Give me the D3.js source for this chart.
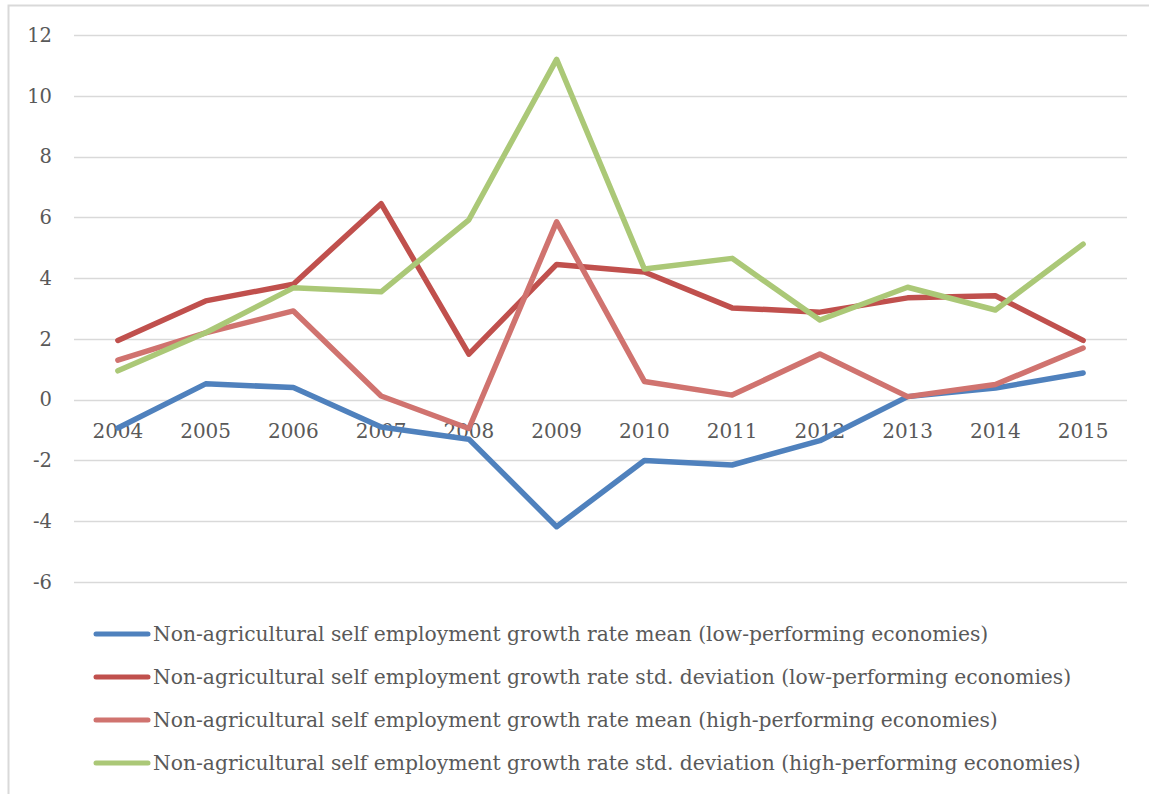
<!DOCTYPE html>
<html>
<head>
<meta charset="utf-8">
<script src="https://cdn.jsdelivr.net/npm/d3@7"></script>
<style>
  body { margin: 0; background: #fff; }
  text { font-family: "DejaVu Serif", "Liberation Serif", serif; fill: #595959; }
</style>
</head>
<body>
<div id="container"></div>
<script>
// chart data
let years = ["2004", "2005", "2006", "2007", "2008", "2009", "2010", "2011", "2012", "2013", "2014", "2015"];
let meanLow = [-0.93, 0.52, 0.4, -0.9, -1.3, -4.18, -2.0, -2.15, -1.35, 0.1, 0.38, 0.88];
let stdLow = [1.95, 3.25, 3.8, 6.45, 1.5, 4.45, 4.2, 3.02, 2.88, 3.35, 3.42, 1.95];
let meanHigh = [1.3, 2.2, 2.92, 0.12, -0.95, 5.85, 0.6, 0.15, 1.5, 0.1, 0.5, 1.7];
let stdHigh = [0.95, 2.2, 3.68, 3.55, 5.92, 11.2, 4.3, 4.65, 2.62, 3.7, 2.95, 5.12];
let yTicks = [-6, -4, -2, 0, 2, 4, 6, 8, 10, 12];
let seriesNames = [
  "Non-agricultural self employment growth rate mean (low-performing economies)",
  "Non-agricultural self employment growth rate std. deviation (low-performing economies)",
  "Non-agricultural self employment growth rate mean (high-performing economies)",
  "Non-agricultural self employment growth rate std. deviation (high-performing economies)"
];
let colors = ["#4f81bd", "#c0504d", "#d0736f", "#abc877"];

let w = 1149;
let h = 794;

let svg = d3.select("#container")
  .append("svg")
  .attr("width", w)
  .attr("height", h);

// chart border (left and top only visible)
svg.append("path")
  .attr("d", "M8.5,800V5.5H1160")
  .attr("fill", "none")
  .attr("stroke", "#d9d9d9")
  .attr("stroke-width", 2);

let x = d3.scaleBand().domain(years).range([74, 1127]);
let y = d3.scaleLinear().domain([-6, 12]).range([582, 35]);

// gridlines
svg.append("g")
  .selectAll("line")
  .data(yTicks)
  .enter()
  .append("line")
  .attr("x1", 74)
  .attr("x2", 1127)
  .attr("y1", d => Math.round(y(d)) + 0.5)
  .attr("y2", d => Math.round(y(d)) + 0.5)
  .attr("stroke", "#d9d9d9")
  .attr("stroke-width", 1.5);

// y labels
svg.append("g")
  .selectAll("text")
  .data(yTicks)
  .enter()
  .append("text")
  .attr("x", 52)
  .attr("y", d => y(d))
  .attr("dy", "0.35em")
  .attr("text-anchor", "end")
  .style("font-size", "19.5px")
  .text(d => d);

// x labels sit just under the zero line
svg.append("g")
  .selectAll("text")
  .data(years)
  .enter()
  .append("text")
  .attr("x", d => x(d) + x.bandwidth() / 2)
  .attr("y", y(0) + 38)
  .attr("text-anchor", "middle")
  .style("font-size", "20px")
  .text(d => d);

let allSeries = [meanLow, stdLow, meanHigh, stdHigh];

let line = d3.line()
  .x((d, i) => x(years[i]) + x.bandwidth() / 2)
  .y(d => y(d));

svg.append("g")
  .selectAll("path")
  .data(allSeries)
  .enter()
  .append("path")
  .attr("d", line)
  .attr("fill", "none")
  .attr("stroke", (d, i) => colors[i])
  .attr("stroke-width", 5.5)
  .attr("stroke-linejoin", "round")
  .attr("stroke-linecap", "round");

// legend
let legend = svg.append("g")
  .selectAll("g")
  .data(seriesNames)
  .enter()
  .append("g")
  .attr("transform", (d, i) => "translate(0," + (634 + i * 43) + ")");

legend.append("line")
  .attr("x1", 96)
  .attr("x2", 148)
  .attr("stroke", (d, i) => colors[i])
  .attr("stroke-width", 5)
  .attr("stroke-linecap", "round");

legend.append("text")
  .attr("x", 153)
  .attr("dy", "0.35em")
  .style("font-size", "20.3px")
  .text(d => d);
</script>
</body>
</html>
